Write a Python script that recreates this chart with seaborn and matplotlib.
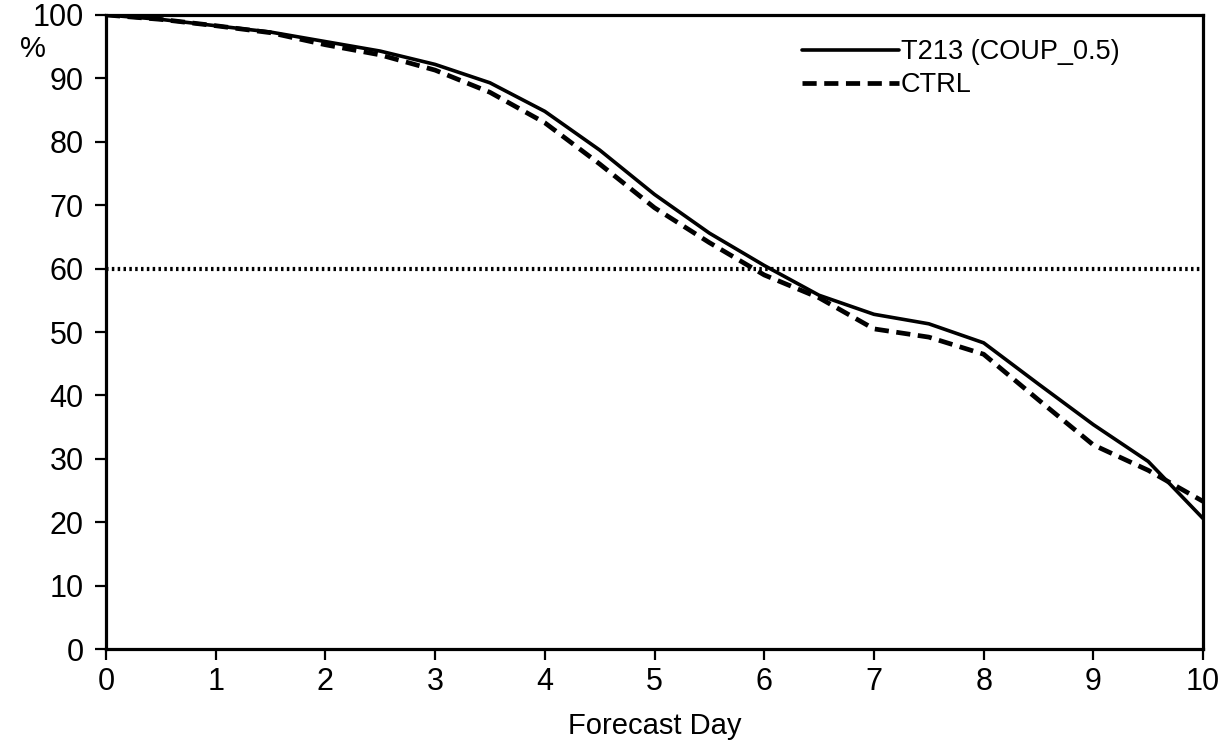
import numpy as np
import pandas as pd
import matplotlib
matplotlib.use("Agg")
import matplotlib.pyplot as plt
import seaborn as sns

# forecast days (every half day)
days = [0, 0.5, 1, 1.5, 2, 2.5, 3, 3.5, 4, 4.5, 5, 5.5, 6, 6.5, 7, 7.5, 8, 8.5, 9, 9.5, 10]
t213 = [100, 99.3, 98.3, 97.3, 95.8, 94.3, 92.2, 89.3, 84.8, 78.7, 71.7, 65.6, 60.5,
        55.8, 52.8, 51.3, 48.3, 41.8, 35.4, 29.6, 20.6]
ctrl = [100, 99.3, 98.3, 97.2, 95.3, 93.7, 91.3, 87.8, 83.0, 76.5, 69.6, 64.1, 59.0,
        55.4, 50.5, 49.2, 46.5, 39.3, 32.2, 28.2, 23.3]
threshold = 60

df = pd.DataFrame({"day": days, "T213 (COUP_0.5)": t213, "CTRL": ctrl})

sns.set_style("ticks")
plt.rcParams["font.family"] = ["Liberation Sans", "DejaVu Sans"]
for k in ["text.color", "axes.labelcolor", "xtick.color", "ytick.color", "axes.edgecolor"]:
    plt.rcParams[k] = "black"

fig = plt.figure(figsize=(12.32, 7.47), dpi=100)
ax = fig.add_axes([0.086, 0.131, 0.8905, 0.849])

ax.axhline(threshold, color="black", lw=3.0, ls=(0, (0.6, 0.8)), zorder=1)
sns.lineplot(data=df, x="day", y="T213 (COUP_0.5)", ax=ax, color="black", lw=2.6,
             label="T213 (COUP_0.5)", zorder=3)
sns.lineplot(data=df, x="day", y="CTRL", ax=ax, color="black", lw=3.4,
             ls=(0, (3, 1.6)), label="CTRL", zorder=2)

ax.set_xlim(0, 10)
ax.set_ylim(0, 100)
ax.set_xticks(range(0, 11))
ax.set_yticks(range(0, 101, 10))
ax.tick_params(axis="both", labelsize=22, length=8, width=1.6, direction="out")
ax.tick_params(axis="y", pad=8)
ax.tick_params(axis="x", pad=5)
for s in ax.spines.values():
    s.set_linewidth(2.3)
    s.set_visible(True)

ax.set_xlabel("Forecast Day", fontsize=21, labelpad=11)
ax.set_ylabel("")
fig.text(0.016, 0.935, "%", fontsize=21, ha="left", va="center")

leg = ax.legend(loc="upper right", bbox_to_anchor=(0.946, 1.0), frameon=False,
                fontsize=19.5, handlelength=3.6, handletextpad=0.05, labelspacing=0.25)

fig.savefig("out.png", dpi=100)
